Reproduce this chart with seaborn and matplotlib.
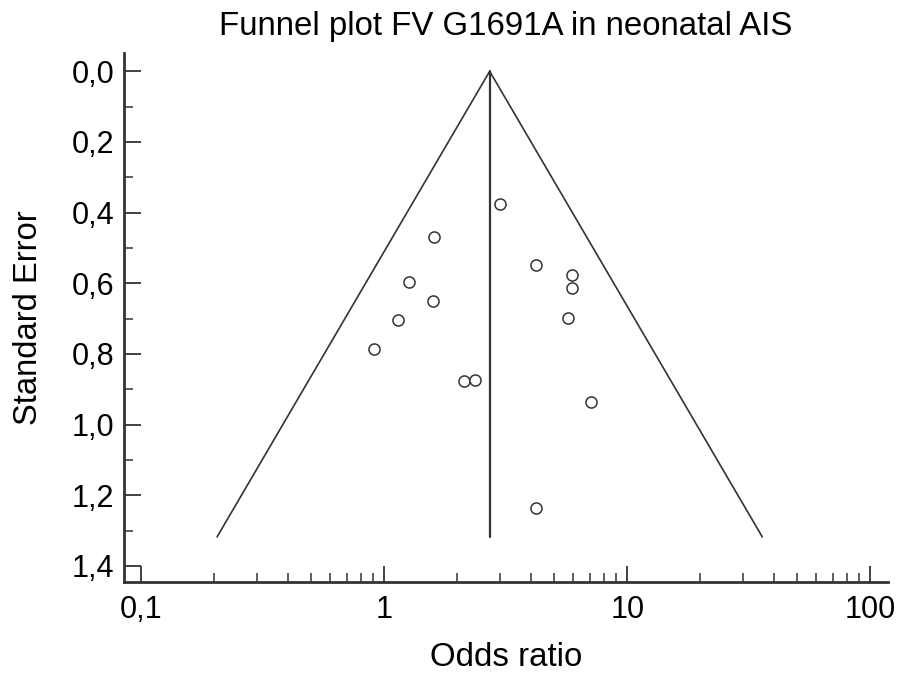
import numpy as np
import pandas as pd
import matplotlib
matplotlib.use("Agg")
import matplotlib.pyplot as plt
import matplotlib.ticker as mticker
import seaborn as sns

# Study estimates
odds_ratio = [2.99, 1.61, 1.26, 1.59, 1.135, 0.91, 2.12, 2.36,
              4.22, 5.94, 5.90, 5.68, 7.11, 4.20]
std_error = [0.375, 0.470, 0.595, 0.649, 0.704, 0.785, 0.878, 0.875,
             0.549, 0.576, 0.614, 0.697, 0.9375, 1.236]

# Pooled estimate and depth of the pseudo 95% confidence funnel
pooled_or = 2.716
se_max = 1.318

y_ticks = [0.0, 0.2, 0.4, 0.6, 0.8, 1.0, 1.2, 1.4]
x_ticks = [0.1, 1, 10, 100]
x_tick_labels = ["0,1", "1", "10", "100"]

df = pd.DataFrame({"OR": odds_ratio, "SE": std_error})

sns.set_style("white")
plt.rcParams['font.family'] = ['Liberation Sans', 'DejaVu Sans']
plt.rcParams['text.color'] = 'black'
plt.rcParams['axes.labelcolor'] = 'black'
plt.rcParams['xtick.labelcolor'] = 'black'
plt.rcParams['ytick.labelcolor'] = 'black'

ink = "#333333"
fig = plt.figure(figsize=(8.99, 6.73), dpi=100)
ax = fig.add_axes([0.1379, 0.1345, 0.988 - 0.1379, 0.9208 - 0.1345])

# funnel: vertical line at pooled OR plus the two 95% limits
lo = np.exp(np.log(pooled_or) - 1.96 * se_max)
hi = np.exp(np.log(pooled_or) + 1.96 * se_max)
ax.plot([lo, pooled_or, hi], [se_max, 0, se_max], color=ink, lw=1.2, zorder=2)
ax.plot([pooled_or, pooled_or], [0, se_max], color=ink, lw=1.6, zorder=2)

sns.scatterplot(data=df, x="OR", y="SE", ax=ax, marker="o", s=64,
                facecolor="white", edgecolor=ink, linewidth=1.1, zorder=3)

ax.set_xscale("log")
ax.set_xlim(0.0849, 118.6)
ax.set_ylim(1.447, -0.051)

ax.set_xticks(x_ticks)
ax.set_xticklabels(x_tick_labels)
minor_x = [m * d for d in (0.1, 1, 10) for m in range(2, 10)]
ax.xaxis.set_minor_locator(mticker.FixedLocator(minor_x))
ax.xaxis.set_minor_formatter(mticker.NullFormatter())

ax.set_yticks(y_ticks)
ax.yaxis.set_major_formatter(mticker.FuncFormatter(lambda v, p: f"{v:.1f}".replace(".", ",")))
ax.yaxis.set_minor_locator(mticker.MultipleLocator(0.1))

for side in ["top", "right"]:
    ax.spines[side].set_visible(False)
for side in ["left", "bottom"]:
    ax.spines[side].set_color(ink)
    ax.spines[side].set_linewidth(2.0)

ax.tick_params(axis="both", which="major", direction="in", length=12, width=1.3,
               color=ink, labelsize=22, labelcolor="black", pad=7, left=True, bottom=True)
ax.tick_params(axis="both", which="minor", direction="in", length=6.5, width=1.1,
               color=ink, left=True, bottom=True)
ax.tick_params(axis="x", which="major", length=11.5, pad=9)

ax.set_xlabel("Odds ratio", fontsize=23.8, labelpad=12, color="black")
ax.set_ylabel("Standard Error", fontsize=23.6, labelpad=20, color="black")
ax.set_title("Funnel plot FV G1691A in neonatal AIS", fontsize=23.8, pad=13, color="black")

fig.savefig("out.png", dpi=100)
